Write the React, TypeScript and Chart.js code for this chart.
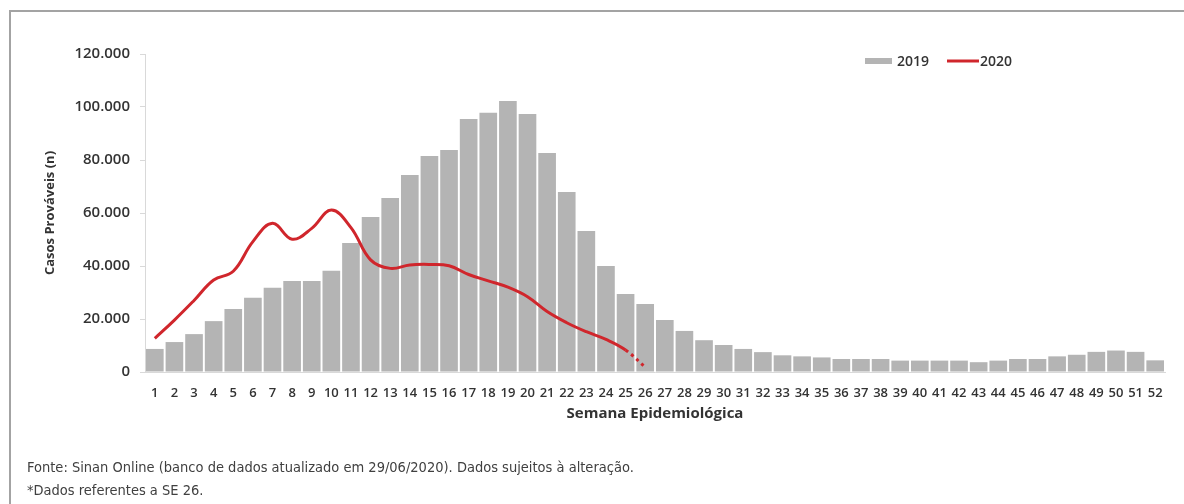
import React, { useEffect, useRef } from "react";
import { Chart, registerables } from "chart.js";

Chart.register(...registerables);

const weeks = [
  "1", "2", "3", "4", "5", "6", "7", "8", "9", "10", "11", "12", "13",
  "14", "15", "16", "17", "18", "19", "20", "21", "22", "23", "24", "25", "26",
  "27", "28", "29", "30", "31", "32", "33", "34", "35", "36", "37", "38", "39",
  "40", "41", "42", "43", "44", "45", "46", "47", "48", "49", "50", "51", "52",
];

const cases2019 = [
  8700, 11300, 14300, 19200, 23800, 28000, 31800, 34300, 34300, 38200, 48700, 58500, 65700,
  74300, 81500, 83800, 95500, 97800, 102300, 97400, 82600, 67900, 53200, 40000, 29400, 25700,
  19600, 15500, 12000, 10200, 8700, 7500, 6300, 5900, 5500, 4900, 4900, 4900, 4300,
  4300, 4300, 4300, 3700, 4300, 4900, 4900, 5900, 6500, 7600, 8100, 7600, 4400,
];

const cases2020: (number | null)[] = [
  12700, 19600, 27000, 34700, 38000, 49200, 56100, 50100, 54200, 61100, 54500, 42300, 39100,
  40400, 40600, 40100, 36800, 34400, 32000, 28400, 22800, 18600, 15200, 12300, 8300, 1800,
  null, null, null, null, null, null, null, null, null, null, null, null, null,
  null, null, null, null, null, null, null, null, null, null, null, null, null,
];

const seriesNames = ["2019", "2020"];
const yMax = 120000;
const yStep = 20000;

const BAR_COLOR = "#b4b4b4";
const LINE_COLOR = "#d0262c";
const TEXT_COLOR = "#333333";
const FONT = "'Open Sans', 'Noto Sans', sans-serif";

const fmt = (v: number) => String(v).replace(/\B(?=(\d{3})+(?!\d))/g, ".");

const legendPlugin = {
  id: "customLegend",
  afterDraw(chart: any) {
    const ctx = chart.ctx;
    const y = 61;
    ctx.save();
    ctx.font = `600 14px ${FONT}`;
    ctx.textBaseline = "middle";
    let x = 865;
    ctx.fillStyle = BAR_COLOR;
    ctx.fillRect(x, y - 3, 27, 6);
    ctx.fillStyle = TEXT_COLOR;
    ctx.fillText(chart.data.datasets[0].label, x + 32, y + 1);
    x = 947;
    ctx.strokeStyle = LINE_COLOR;
    ctx.lineWidth = 3;
    ctx.beginPath();
    ctx.moveTo(x, y);
    ctx.lineTo(x + 32, y);
    ctx.stroke();
    ctx.fillStyle = TEXT_COLOR;
    ctx.fillText(chart.data.datasets[1].label, x + 33, y + 1);
    ctx.restore();
  },
};

export default function App() {
  const ref = useRef<HTMLCanvasElement | null>(null);

  useEffect(() => {
    if (!ref.current) return;
    const chart = new Chart(ref.current, {
      type: "bar",
      data: {
        labels: weeks,
        datasets: [
          {
            type: "bar",
            label: seriesNames[0],
            data: cases2019,
            backgroundColor: BAR_COLOR,
            borderWidth: 0,
            categoryPercentage: 1,
            barPercentage: 0.9,
            order: 2,
          },
          {
            type: "line",
            label: seriesNames[1],
            data: cases2020 as any,
            borderColor: LINE_COLOR,
            borderWidth: 3,
            pointRadius: 0,
            tension: 0.4,
            fill: false,
            spanGaps: false,
            order: 1,
            segment: {
              borderDash: (c: any) => (c.p1DataIndex === 25 ? [3, 4] : undefined),
            },
          } as any,
        ],
      },
      options: {
        responsive: false,
        animation: false,
        devicePixelRatio: 1,
        layout: { padding: { left: 42, top: 54, right: 19, bottom: 0 } },
        plugins: {
          legend: { display: false },
          tooltip: { enabled: false },
        },
        scales: {
          x: {
            grid: { display: false },
            border: { display: true, color: "#d9d9d9", width: 1 },
            ticks: {
              autoSkip: false,
              maxRotation: 0,
              minRotation: 0,
              padding: 5,
              color: TEXT_COLOR,
              font: { family: FONT, size: 13, weight: "600" as any },
            },
            title: {
              display: true,
              text: "Semana Epidemiológica",
              color: TEXT_COLOR,
              font: { family: FONT, size: 15, weight: "bold" as any },
              padding: { top: 4, bottom: 81 },
            },
            afterFit: (s: any) => {
              s.height = 132;
            },
          },
          y: {
            min: 0,
            max: yMax,
            ticks: {
              stepSize: yStep,
              padding: 10,
              color: TEXT_COLOR,
              font: { family: FONT, size: 15, weight: "600" as any },
              callback: (v: any) => fmt(Number(v)),
            },
            grid: {
              display: true,
              drawOnChartArea: false,
              drawTicks: true,
              tickLength: 5,
              color: "#d9d9d9",
            },
            border: { display: true, color: "#d9d9d9", width: 1 },
            title: {
              display: true,
              text: "Casos Prováveis (n)",
              color: TEXT_COLOR,
              font: { family: FONT, size: 13, weight: "bold" as any },
              padding: 0,
            },
            afterFit: (s: any) => {
              s.width = 103;
            },
          },
        },
      },
      plugins: [legendPlugin],
    });
    return () => chart.destroy();
  }, []);

  return (
    <div style={{ position: "absolute", left: 0, top: 0, width: 1184, height: 504, background: "#fff", overflow: "hidden" }}>
      <div
        style={{
          position: "absolute",
          left: 9,
          top: 10,
          width: 1200,
          height: 520,
          borderLeft: "2px solid #a3a3a3",
          borderTop: "2px solid #a3a3a3",
        }}
      />
      <canvas ref={ref} width={1184} height={504} style={{ position: "absolute", left: 0, top: 0, width: 1184, height: 504 }} />
      <div
        style={{
          position: "absolute",
          left: 27,
          top: 456,
          fontFamily: "'Liberation Sans Narrow', 'DejaVu Sans Condensed', sans-serif",
          fontSize: 14.5,
          color: "#404040",
          lineHeight: "23px",
          whiteSpace: "nowrap",
        }}
      >
        <div>Fonte: Sinan Online (banco de dados atualizado em 29/06/2020). Dados sujeitos à alteração.</div>
        <div>*Dados referentes a SE 26.</div>
      </div>
    </div>
  );
}
